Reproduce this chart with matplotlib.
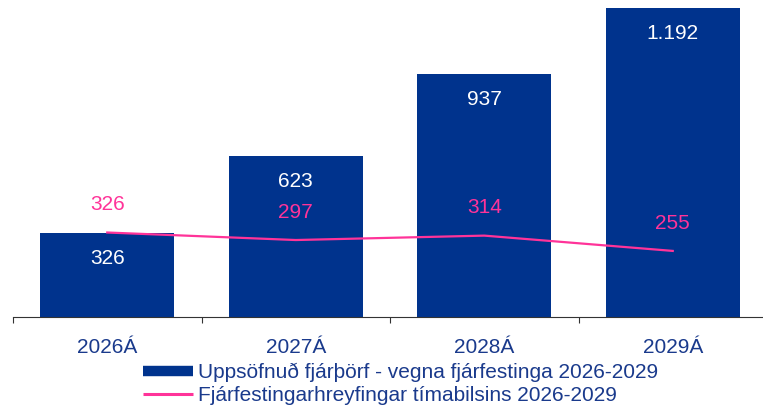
import matplotlib
matplotlib.use("Agg")
import matplotlib.pyplot as plt
from matplotlib.lines import Line2D

categories = ["2026Á", "2027Á", "2028Á", "2029Á"]
cumulative = [326, 623, 937, 1192]
period = [326, 297, 314, 255]
bar_label = "Uppsöfnuð fjárþörf - vegna fjárfestinga 2026-2029"
line_label = "Fjárfestingarhreyfingar tímabilsins 2026-2029"

BLUE = "#00338D"
PINK = "#FF3399"
TEXT = "#1A3A8C"
FS = 15

plt.rcParams["font.family"] = ["Liberation Sans", "DejaVu Sans"]

def fmt(v):
    return f"{v:,}".replace(",", ".")

fig = plt.figure(figsize=(7.63, 4.07), dpi=100)
ax = fig.add_axes([13/763, 90/407, 754/763, 311/407])

x = list(range(len(categories)))
ax.bar(x, cumulative, width=0.71, color=BLUE, zorder=2)
ax.plot(x, period, color=PINK, lw=1.6, zorder=3)

for xi, v in zip(x, cumulative):
    ax.annotate(fmt(v), (xi, v), xytext=(0, -18.5), textcoords="offset points",
                ha="center", va="center", color="white", fontsize=FS, zorder=4)
for xi, v in zip(x, period):
    ax.annotate(fmt(v), (xi, v), xytext=(0, 20), textcoords="offset points",
                ha="center", va="center", color=PINK, fontsize=FS, zorder=4)

ax.set_xlim(-0.5, 3.5)
ax.set_ylim(0, 1200)
for s in ["top", "right", "left"]:
    ax.spines[s].set_visible(False)
ax.spines["bottom"].set_color("#333333")
ax.spines["bottom"].set_linewidth(0.8)
ax.set_yticks([])

ax.set_xticks([-0.5, 0.5, 1.5, 2.5, 3.5])
ax.set_xticklabels([])
ax.tick_params(axis="x", which="major", length=4.5, width=0.8, color="#333333", direction="out")
ax.set_xticks(x, minor=True)
ax.set_xticklabels(categories, minor=True)
ax.tick_params(axis="x", which="minor", length=0, pad=15, labelsize=FS, labelcolor=TEXT)

handles = [
    Line2D([0], [0], color=BLUE, lw=7.5, solid_capstyle="butt"),
    Line2D([0], [0], color=PINK, lw=2.2, solid_capstyle="butt"),
]
leg = fig.legend(handles, [bar_label, line_label], loc="upper left",
                 bbox_to_anchor=(143/763, 1 - 363/407), frameon=False,
                 fontsize=FS, handlelength=2.4, handletextpad=0.25,
                 labelspacing=0.2, borderpad=0, borderaxespad=0)
for t in leg.get_texts():
    t.set_color(TEXT)

fig.savefig("out.png", dpi=100)
